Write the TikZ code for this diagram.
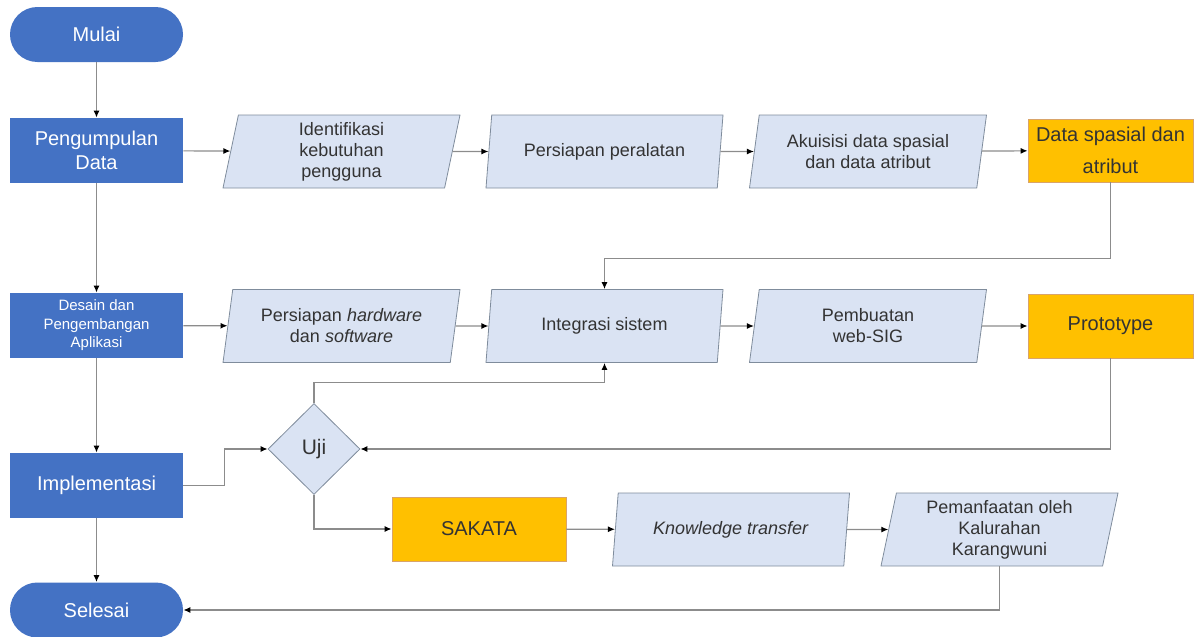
\documentclass[tikz,border=0pt]{standalone}
\usepackage{fontspec}
\setmainfont{Liberation Sans}
\usetikzlibrary{arrows.meta,shapes.geometric}

\definecolor{phaseblue}{HTML}{4472C4}
\definecolor{iofill}{HTML}{DAE3F3}
\definecolor{ioline}{HTML}{7F8C9C}
\definecolor{outyellow}{HTML}{FFC000}
\definecolor{outline}{HTML}{D9A46A}
\definecolor{flowgray}{HTML}{8C8C8C}
\definecolor{txtgray}{HTML}{333333}

\begin{document}
\begin{tikzpicture}[
                x=0.5pt, y=-0.5pt,
                every node/.append style={inner sep=2pt,align=center},
                phase/.style={rectangle,fill=phaseblue,text=white,minimum width=86.5pt,minimum height=32.5pt,font=\fontsize{10}{12}\selectfont},
                terminal/.style={phase,rounded corners=13.7pt,minimum height=27.5pt},
                io/.style={trapezium,trapezium left angle=77,trapezium right angle=103,trapezium stretches body,
                    draw=ioline,fill=iofill,text=txtgray,minimum width=118.5pt,minimum height=36.5pt,font=\fontsize{9}{10.5}\selectfont},
                result/.style={rectangle,draw=outline,fill=outyellow,text=txtgray,minimum width=82.5pt,minimum height=31.5pt,font=\fontsize{10}{16}\selectfont},
                decision/.style={diamond,draw=ioline,fill=iofill,text=txtgray,inner sep=0pt,minimum width=46pt,minimum height=45.5pt,font=\fontsize{10.5}{12}\selectfont},
                flow/.style={draw=flowgray,line width=0.6pt,-{Latex[length=3.5pt,width=3pt,color=black]}}
            ]
                \useasboundingbox (0,0) rectangle (1195,637);
                % left column
                \node (mulai)   [terminal] at (96.5,34.5) {Mulai};
                \node (kumpul)  [phase] at (96.5,150.5) {Pengumpulan\\Data};
                \node (desain)  [phase,font=\fontsize{7.5}{9.2}\selectfont] at (96.5,325.5) {Desain dan\\Pengembangan\\Aplikasi};
                \node (impl)    [phase] at (96.5,485.5) {Implementasi};
                \node (selesai) [terminal] at (96.5,610) {Selesai};
                % first row
                \node (ident)   [io] at (341.5,151.5) {Identifikasi\\kebutuhan\\pengguna};
                \node (alat)    [io] at (604.5,151.5) {Persiapan peralatan};
                \node (akuisisi)[io] at (868,151.5) {Akuisisi data spasial\\dan data atribut};
                \node (data)    [result] at (1110.5,150.5) {Data spasial dan\\atribut};
                % second row
                \node (hw)      [io] at (341.5,326) {Persiapan \textit{hardware}\\dan \textit{software}};
                \node (integ)   [io] at (604.5,326) {Integrasi sistem};
                \node (websig)  [io] at (868,326) {Pembuatan\\web-SIG};
                \node (proto)   [result,minimum height=32pt] at (1110.5,326) {Prototype};
                % third row
                \node (uji)     [decision] at (314,449) {Uji};
                \node (sakata)  [result,minimum width=87pt,minimum height=32pt] at (479,529) {SAKATA};
                \node (kt)      [io] at (731,529.5) {\textit{Knowledge transfer}};
                \node (manfaat) [io] at (999.5,529.5) {Pemanfaatan oleh\\Kalurahan\\Karangwuni};

                \draw[flow] (mulai) -- (kumpul);
                \draw[flow] (kumpul) -- (desain);
                \draw[flow] (desain) -- (impl);
                \draw[flow] (impl) -- (selesai);
                \draw[flow] (kumpul) -- (ident);
                \draw[flow] (ident) -- (alat);
                \draw[flow] (alat) -- (akuisisi);
                \draw[flow] (akuisisi) -- (data);
                \draw[flow] (data.south) -- ++(0,76) -| (integ.north);
                \draw[flow] (desain) -- (hw);
                \draw[flow] (hw) -- (integ);
                \draw[flow] (integ) -- (websig);
                \draw[flow] (websig) -- (proto);
                \draw[flow] (proto.south) |- (uji.east);
                \draw[flow] (uji.north) -- ++(0,-21) -| (integ.south);
                \draw[flow] (impl.east) -- ++(41,0) |- (uji.west);
                \draw[flow] (uji.south) |- (sakata.west);
                \draw[flow] (sakata) -- (kt);
                \draw[flow] (kt) -- (manfaat);
                \draw[flow] (manfaat.south) |- (selesai.east);
            \end{tikzpicture}
\end{document}
